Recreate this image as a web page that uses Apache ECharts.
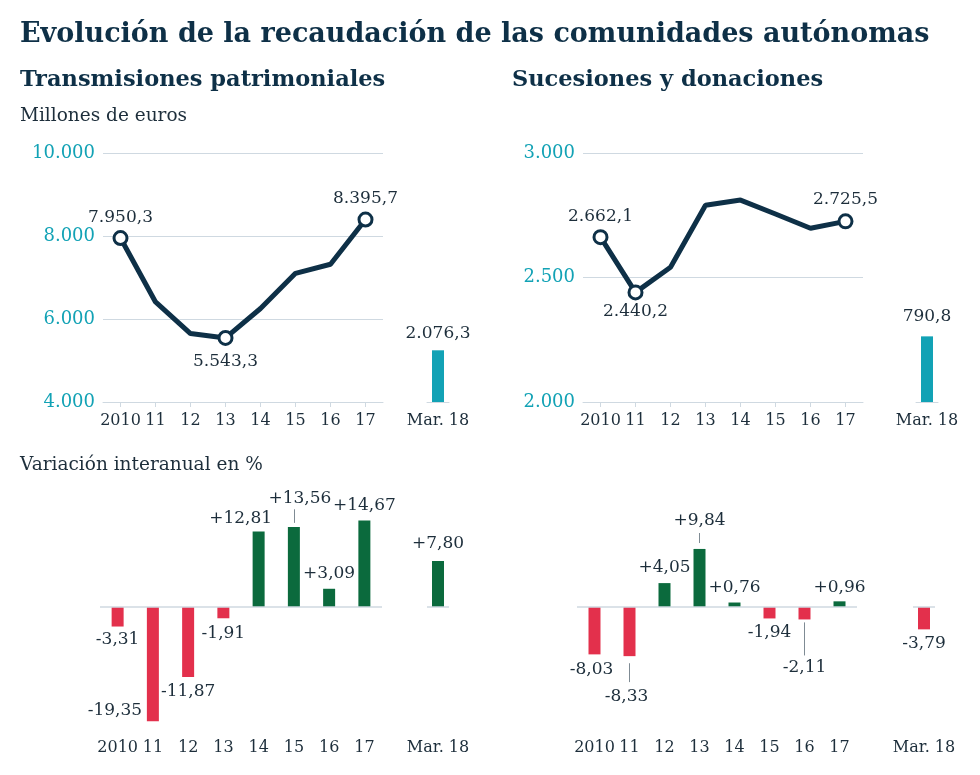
<!DOCTYPE html>
<html>
<head>
<meta charset="utf-8">
<script src="https://cdn.jsdelivr.net/npm/echarts@6/dist/echarts.min.js"></script>
<style>
html,body{margin:0;padding:0;background:#fff;}
#chart{width:980px;height:775px;}
</style>
</head>
<body>
<div id="chart"></div>
<script>
// ---- data ----
const years = ['2010', '11', '12', '13', '14', '15', '16', '17'];
const marCategory = ['Mar. 18'];
const transValues = [7950.3, 6411, 5650, 5543.3, 6253, 7101, 7320, 8395.7];
const transMar = [2076.3];
const sucValues = [2662.1, 2440.2, 2541, 2790, 2811, 2755, 2698, 2725.5];
const sucMar = [790.8];
const transVar = [-3.31, -19.35, -11.87, -1.91, 12.81, 13.56, 3.09, 14.67];
const transVarMar = [7.80];
const sucVar = [-8.03, -8.33, 4.05, 9.84, 0.76, -1.94, -2.11, 0.96];
const sucVarMar = [-3.79];
const transTicks = [4000, 6000, 8000, 10000];
const sucTicks = [2000, 2500, 3000];

// ---- styles ----
const FONT = 'DejaVu Serif';
const NAVY = '#0e3047';
const TEXT = '#1d2e3b';
const TEAL = '#12a2b5';
const GRID = '#cfd9e1';
const RED = '#e3304c';
const GREEN = '#0b6a3d';

function fmt(v, dec) {
  const s = Math.abs(v).toFixed(dec);
  let [ip, dp] = s.split('.');
  ip = ip.replace(/\B(?=(\d{3})+(?!\d))/g, '.');
  return (v < 0 ? '-' : '') + ip + (dp ? ',' + dp : '');
}
function fmtVar(v) { return (v > 0 ? '+' : '') + fmt(v, 2); }

// line markers: index -> [position, distance]
const transMarks = {0: ['top', 4], 3: ['bottom', 7], 7: ['top', 5]};
const sucMarks = {0: ['top', 4], 1: ['bottom', 3], 7: ['top', 5]};
// bar label placement: [position, distance, dx, dy]
const transVarLab = [['bottom', 5, 0, 0], ['bottom', 5, -38, -24], ['bottom', 6, 0, 0], ['bottom', 7, 0, 0],
  ['top', 4, -18, 0], ['top', 20, 6, 0], ['top', 7, 0, 0], ['top', 6, 0, 0]];
const transVarMarLab = [['top', 9, 0, 0]];
const sucVarLab = [['bottom', 7, -3, 0], ['bottom', 32, -3, 0], ['top', 7, 0, 0], ['top', 20, 0, 0],
  ['top', 6, 0, 0], ['bottom', 6, 0, 0], ['bottom', 40, 0, 0], ['top', 5, 0, 0]];
const sucVarMarLab = [['bottom', 6, 0, 0]];
// leader lines: [index, fromOffset, toOffset] in value units relative to bar end
const transLeaders = [[5, 0.7, 3.0]];
const sucLeaders = [[1, -1.2, -4.4], [3, 1.0, 2.7], [6, -0.5, -6.1]];

const labelStyle = {fontFamily: FONT, fontSize: 17, color: TEXT};

function lineData(vals, marks) {
  return vals.map((v, i) => {
    if (marks[i]) {
      return {
        value: v, symbol: 'circle', symbolSize: 13,
        itemStyle: {color: '#fff', borderColor: NAVY, borderWidth: 3},
        label: Object.assign({show: true, position: marks[i][0], distance: marks[i][1],
          formatter: p => fmt(p.value, 1)}, labelStyle)
      };
    }
    return {value: v, symbol: 'none'};
  });
}
function barData(vals, labs, colorFn) {
  return vals.map((v, i) => ({
    value: v,
    itemStyle: {color: colorFn(v)},
    label: Object.assign({show: true, position: labs[i][0], distance: labs[i][1],
      offset: [labs[i][2], labs[i][3]], formatter: p => fmtVar(p.value)}, labelStyle)
  }));
}
const varColor = v => v < 0 ? RED : GREEN;
function leaders(vals, list) {
  return list.map(([i, a, b]) => [
    {coord: [i, vals[i] + a], symbol: 'none'},
    {coord: [i, vals[i] + b], symbol: 'none'}
  ]);
}

const topY = 153, topH = 249;
const botTop = 500.8, botH = 230.1;

const grids = [
  {left: 103, width: 280, top: topY, height: topH},   // 0 top-left line
  {left: 427, width: 22, top: topY, height: topH},    // 1 top-left Mar
  {left: 583, width: 280, top: topY, height: topH},   // 2 top-right line
  {left: 916, width: 22, top: topY, height: topH},    // 3 top-right Mar
  {left: 100, width: 282, top: botTop, height: botH}, // 4 bottom-left bars
  {left: 427, width: 22, top: botTop, height: botH},  // 5 bottom-left Mar
  {left: 577, width: 280, top: botTop, height: botH}, // 6 bottom-right bars
  {left: 913, width: 22, top: botTop, height: botH}   // 7 bottom-right Mar
];

const axisLabel = {fontFamily: FONT, fontSize: 16, color: TEXT, margin: 11};
function topX(gi, data, ticks) {
  return {
    type: 'category', gridIndex: gi, data: data, boundaryGap: true,
    axisLine: {show: true, lineStyle: {color: GRID, width: 1}},
    axisTick: {show: ticks, alignWithLabel: true, length: 5, lineStyle: {color: GRID}},
    axisLabel: Object.assign({interval: 0}, axisLabel)
  };
}
function botX(gi, data) {
  return {
    type: 'category', gridIndex: gi, data: data, boundaryGap: true, position: 'bottom',
    axisLine: {show: false, onZero: false}, axisTick: {show: false},
    axisLabel: Object.assign({interval: 0}, axisLabel, {margin: 9})
  };
}
function valY(gi, ticks) {
  return {
    type: 'value', gridIndex: gi, min: ticks[0], max: ticks[ticks.length - 1],
    interval: ticks[1] - ticks[0],
    axisLine: {show: false}, axisTick: {show: false},
    splitLine: {show: true, lineStyle: {color: GRID, width: 1}},
    axisLabel: {fontFamily: FONT, fontSize: 18, color: TEAL, margin: 8, formatter: v => fmt(v, 0)}
  };
}
function hiddenY(gi, min, max) {
  return {type: 'value', gridIndex: gi, min: min, max: max, show: false, splitLine: {show: false}};
}
const zeroLine = {
  silent: true, symbol: 'none', label: {show: false},
  lineStyle: {color: GRID, width: 1.5, type: 'solid'},
  data: [{yAxis: 0}]
};
function zeroAndLeaders(vals, list) {
  return {
    silent: true, symbol: 'none', label: {show: false},
    lineStyle: {color: GRID, width: 1.5, type: 'solid'},
    data: [{yAxis: 0}].concat(leaders(vals, list).map(seg => {
      seg[0].lineStyle = {color: '#7f8b94', width: 1};
      return seg;
    }))
  };
}

const option = {
  animation: false,
  backgroundColor: '#fff',
  title: [
    {text: 'Evolución de la recaudación de las comunidades autónomas', left: 15, top: 16,
      textStyle: {fontFamily: FONT, fontWeight: 'bold', fontSize: 27, color: NAVY}},
    {text: 'Transmisiones patrimoniales', left: 15, top: 64,
      textStyle: {fontFamily: FONT, fontWeight: 'bold', fontSize: 22.5, color: NAVY}},
    {text: 'Sucesiones y donaciones', left: 507, top: 64,
      textStyle: {fontFamily: FONT, fontWeight: 'bold', fontSize: 22.5, color: NAVY}},
    {text: 'Millones de euros', left: 15, top: 102,
      textStyle: {fontFamily: FONT, fontWeight: 'normal', fontSize: 18.5, color: TEXT}},
    {text: 'Variación interanual en %', left: 15, top: 451,
      textStyle: {fontFamily: FONT, fontWeight: 'normal', fontSize: 18.5, color: TEXT}}
  ],
  grid: grids,
  xAxis: [
    topX(0, years, true), topX(1, marCategory, false),
    topX(2, years, true), topX(3, marCategory, false),
    botX(4, years), botX(5, marCategory),
    botX(6, years), botX(7, marCategory)
  ],
  yAxis: [
    valY(0, transTicks), hiddenY(1, 0, 10000),
    valY(2, sucTicks), hiddenY(3, 0, 3000),
    hiddenY(4, -21, 18), hiddenY(5, -21, 18),
    hiddenY(6, -21, 18), hiddenY(7, -21, 18)
  ],
  series: [
    {type: 'line', xAxisIndex: 0, yAxisIndex: 0, data: lineData(transValues, transMarks),
      lineStyle: {color: NAVY, width: 5}, symbol: 'none', z: 5},
    {type: 'bar', xAxisIndex: 1, yAxisIndex: 1, barWidth: 12,
      data: transMar.map(v => ({value: v, label: Object.assign({show: true, position: 'top', distance: 8,
        formatter: p => fmt(p.value, 1)}, labelStyle)})),
      itemStyle: {color: TEAL}},
    {type: 'line', xAxisIndex: 2, yAxisIndex: 2, data: lineData(sucValues, sucMarks),
      lineStyle: {color: NAVY, width: 5}, symbol: 'none', z: 5},
    {type: 'bar', xAxisIndex: 3, yAxisIndex: 3, barWidth: 12,
      data: sucMar.map(v => ({value: v, label: Object.assign({show: true, position: 'top', distance: 11,
        formatter: p => fmt(p.value, 1)}, labelStyle)})),
      itemStyle: {color: TEAL}},
    {type: 'bar', xAxisIndex: 4, yAxisIndex: 4, barWidth: 12,
      data: barData(transVar, transVarLab, varColor),
      markLine: zeroAndLeaders(transVar, transLeaders)},
    {type: 'bar', xAxisIndex: 5, yAxisIndex: 5, barWidth: 12,
      data: barData(transVarMar, transVarMarLab, varColor), markLine: zeroLine},
    {type: 'bar', xAxisIndex: 6, yAxisIndex: 6, barWidth: 12,
      data: barData(sucVar, sucVarLab, varColor),
      markLine: zeroAndLeaders(sucVar, sucLeaders)},
    {type: 'bar', xAxisIndex: 7, yAxisIndex: 7, barWidth: 12,
      data: barData(sucVarMar, sucVarMarLab, varColor), markLine: zeroLine}
  ]
};

const chart = echarts.init(document.getElementById('chart'), null, {renderer: 'canvas'});
chart.setOption(option);
</script>
</body>
</html>
